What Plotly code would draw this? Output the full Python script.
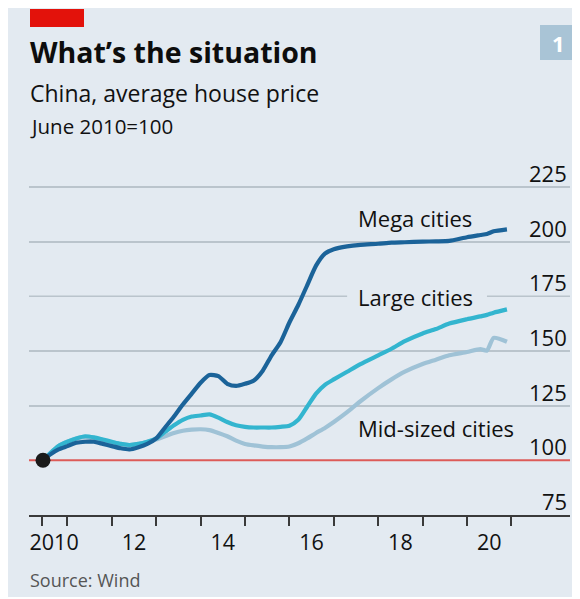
import plotly.graph_objects as go

# ---------------- data ----------------
times = [2010.45, 2010.6, 2010.8, 2011.0, 2011.2, 2011.4, 2011.6, 2011.8, 2012.0, 2012.2,
         2012.4, 2012.6, 2012.8, 2013.0, 2013.2, 2013.4, 2013.6, 2013.8, 2014.0, 2014.2,
         2014.4, 2014.6, 2014.8, 2015.0, 2015.2, 2015.4, 2015.6, 2015.8, 2016.0, 2016.2,
         2016.4, 2016.6, 2016.8, 2017.0, 2017.3, 2017.6, 2018.0, 2018.3, 2018.6, 2019.0,
         2019.3, 2019.6, 2020.0, 2020.3, 2020.45, 2020.6, 2020.9]

mega = [100, 102.5, 105, 106.5, 108, 108.5, 108.5, 107.5, 106.5, 105.5,
        105, 106, 107.5, 110, 115, 120, 125.5, 130.5, 135.5, 139,
        138.5, 135, 134, 135, 136.5, 141, 148, 154, 163, 171,
        180, 189, 194.5, 196.5, 197.8, 198.5, 199, 199.5, 199.7, 200,
        200.1, 200.3, 202, 203, 203.5, 204.7, 205.6]

large = [100, 103, 106.5, 108.5, 110, 111, 110.5, 109.5, 108.5, 107.5,
         107, 107.5, 108.5, 110, 113, 116, 118.5, 120, 120.5, 121,
         119.5, 117.5, 116, 115.3, 115, 115, 115, 115.3, 115.8, 118.5,
         124.5, 130.5, 134.5, 137, 140.5, 144, 148, 151, 154.5, 158,
         160, 162.5, 164.5, 165.8, 166.5, 167.5, 169]

mid = [100, 103, 106.5, 108.5, 110, 110.5, 110, 109, 108, 107.5,
       107, 107.5, 108.5, 109.5, 111, 112.5, 113.5, 114, 114.2, 113.8,
       112.5, 111, 109, 107.5, 106.8, 106.3, 106, 106, 106.3, 107.8,
       110, 112.5, 114.8, 117.5, 122, 127, 133, 137, 140.5, 144,
       146, 148, 149.5, 150.8, 150.2, 156, 154.2]

series_names = ["Mid-sized cities", "Large cities", "Mega cities"]
series_colors = ["#9fc2d6", "#33b5cf", "#1b6399"]

y_ticks = [75, 100, 125, 150, 175, 200, 225]
x_label_vals = [2010.7, 2012.5, 2014.5, 2016.5, 2018.5, 2020.5]
x_label_text = ["2010", "12", "14", "16", "18", "20"]
year_marks = [2010.43, 2011, 2012, 2013, 2014, 2015, 2016, 2017, 2018, 2019, 2020, 2021]

# ---------------- layout helpers ----------------
OFF = 8  # page body margin
W, H = 572, 589
L, R, T, B = 21, 10, 152, 82
PW = W - L - R
PH = H - T - B
FONT = "Open Sans"
PANEL = "#e3eaf1"
GRID = "#bac4cc"
X_RANGE = [2010.135, 2022.32]
LABEL_GAP = [2017.3, 2020.45]  # break in the 175 gridline behind "Large cities"


def px(x):  # window pixel -> paper
    return (x - OFF - L) / PW


def py(y):
    return (H - B - (y - OFF)) / PH


fig = go.Figure()

for name, vals, col in zip(series_names, [mid, large, mega], series_colors):
    fig.add_trace(go.Scatter(x=times, y=vals, mode="lines", name=name,
                             line=dict(color=col, width=4.2, shape="spline", smoothing=0.6),
                             hoverinfo="skip"))

fig.add_trace(go.Scatter(x=[times[0]], y=[mega[0]], mode="markers",
                         marker=dict(color="#1a1a1a", size=15), hoverinfo="skip"))

shapes = [
    # red bar
    dict(type="rect", xref="paper", yref="paper", x0=px(30), x1=px(84), y0=py(27), y1=py(9),
         fillcolor="#e3120b", line=dict(width=0), layer="below"),
    # badge
    dict(type="rect", xref="paper", yref="paper", x0=px(540), x1=px(576), y0=py(60), y1=py(25),
         fillcolor="#a9c4d6", line=dict(width=0), layer="below"),
    # 175 gridline, broken behind label
    dict(type="line", xref="x", yref="y", x0=X_RANGE[0], x1=LABEL_GAP[0], y0=175, y1=175,
         line=dict(color=GRID, width=1.6), layer="below"),
    dict(type="line", xref="x", yref="y", x0=LABEL_GAP[1], x1=X_RANGE[1], y0=175, y1=175,
         line=dict(color=GRID, width=1.6), layer="below"),
    # red 100 line
    dict(type="line", xref="paper", yref="y", x0=0, x1=1, y0=100, y1=100,
         line=dict(color="#dd5b58", width=2), layer="below"),
]

ann = [
    dict(text="<b>What’s the situation</b>", x=px(28), y=py(52), xanchor="left", yanchor="middle",
         font=dict(size=28.5, color="#0d0d0d")),
    dict(text="China, average house price", x=px(28), y=py(93), xanchor="left", yanchor="middle",
         font=dict(size=23, color="#111")),
    dict(text="June 2010=100", x=px(28), y=py(126), xanchor="left", yanchor="middle",
         font=dict(size=20.5, color="#111")),
    dict(text="<b>1</b>", x=px(558), y=py(43), xanchor="center", yanchor="middle",
         font=dict(size=22, color="white")),
    dict(text="Source: Wind", x=px(28), y=py(580), xanchor="left", yanchor="middle",
         font=dict(size=18, color="#555")),
]
for a in ann:
    a.update(xref="paper", yref="paper", showarrow=False)

for v in y_ticks:
    ann.append(dict(text=str(v), xref="paper", yref="y", x=1, y=v, xanchor="right",
                    yanchor="middle", yshift=14, xshift=-1, showarrow=False,
                    font=dict(size=22, color="#111")))

label_pos = {"Mega cities": 211, "Large cities": 174.5, "Mid-sized cities": 115}
for name in series_names:
    ann.append(dict(text=name, xref="x", yref="y", x=2017.5, y=label_pos[name],
                    xanchor="left", yanchor="middle", showarrow=False,
                    font=dict(size=22, color="#111")))

fig.update_layout(
    width=W, height=H,
    margin=dict(l=L, r=R, t=T, b=B),
    paper_bgcolor=PANEL, plot_bgcolor="rgba(0,0,0,0)",
    showlegend=False,
    font=dict(family=FONT, color="#111"),
    shapes=shapes, annotations=ann,
    xaxis=dict(range=X_RANGE, showgrid=False, zeroline=False,
               showline=True, linecolor="#3a3a3a", linewidth=1.6,
               tickmode="array", tickvals=x_label_vals, ticktext=x_label_text,
               ticks="outside", ticklen=7, tickcolor="rgba(0,0,0,0)",
               tickfont=dict(size=21.5, color="#111"),
               minor=dict(tickmode="array", tickvals=year_marks, ticks="outside",
                          ticklen=9, tickwidth=2, tickcolor="#3a3a3a", showgrid=False)),
    yaxis=dict(range=[75, 237.3], showline=False, zeroline=False,
               tickmode="array", tickvals=[v for v in y_ticks if v not in (75, 100, 175)],
               showticklabels=False, showgrid=True, gridcolor=GRID, gridwidth=1.6),
)

fig.write_html("out.html")
